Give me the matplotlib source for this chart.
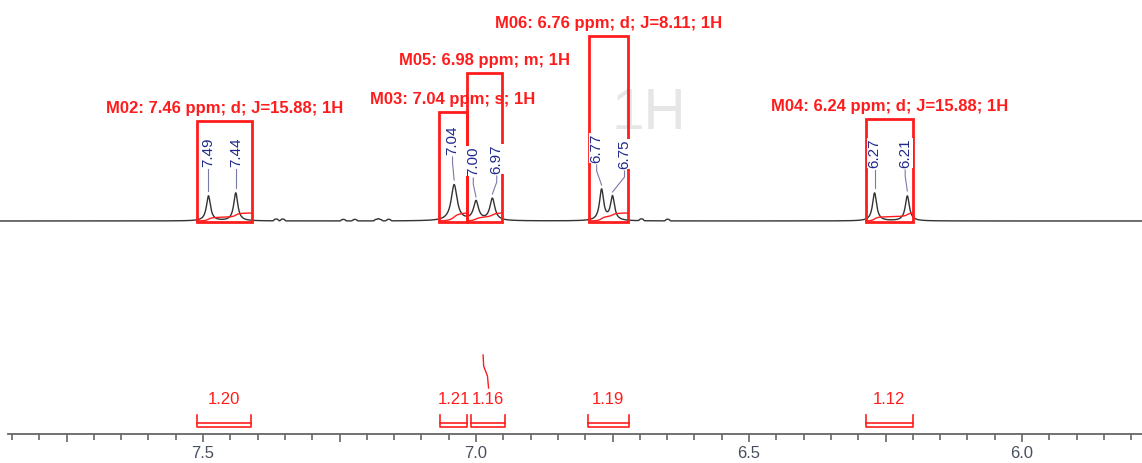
import numpy as np
import matplotlib
matplotlib.use("Agg")
import matplotlib.pyplot as plt
from matplotlib.patches import Rectangle
from matplotlib.ticker import MultipleLocator, FuncFormatter

plt.rcParams["font.family"] = ["Liberation Sans", "DejaVu Sans"]

# --- peaks (ppm, height in px above baseline, half width in ppm)
peak_ppm = [7.49, 7.44, 7.04, 7.00, 6.97, 6.77, 6.75, 6.27, 6.21]
peak_height = [25, 28, 36, 19, 22, 31, 24, 28, 25]
peak_hw = [0.0045, 0.0045, 0.0065, 0.0055, 0.0055, 0.0045, 0.0045, 0.0045, 0.0045]
peak_labels = ["7.49", "7.44", "7.04", "7.00", "6.97", "6.77", "6.75", "6.27", "6.21"]
label_ppm = [7.49, 7.44, 7.043, 7.005, 6.962, 6.779, 6.728, 6.270, 6.214]
label_y = [152, 152, 140, 161, 159, 148, 154, 153, 153]  # px from top

# small baseline bumps
bump_ppm = [7.366, 7.354, 7.243, 7.222, 7.182, 7.176, 7.160, 6.697, 6.649]
bump_height = [1.8, 1.8, 1.5, 1.5, 1.5, 1.5, 1.5, 1.8, 1.6]

# --- multiplets
mult_names = ["M02: 7.46 ppm; d; J=15.88; 1H", "M03: 7.04 ppm; s; 1H",
              "M05: 6.98 ppm; m; 1H", "M06: 6.76 ppm; d; J=8.11; 1H",
              "M04: 6.24 ppm; d; J=15.88; 1H"]
box_left = [7.511, 7.068, 7.016, 6.793, 6.286]
box_right = [7.410, 7.016, 6.952, 6.722, 6.200]
box_top = [121, 112, 73, 36, 119]  # px from top

# --- integrals
int_values = ["1.20", "1.21", "1.16", "1.19", "1.12"]
int_left = [7.511, 7.066, 7.009, 6.795, 6.286]
int_right = [7.412, 7.016, 6.946, 6.720, 6.200]

W, H = 1142, 463
BASE = 221  # baseline pixel row
def py(p):  # pixel row -> y data (px above baseline)
    return BASE - p

fig = plt.figure(figsize=(W / 100, H / 100), dpi=100)
ax = fig.add_axes([0, 0, 1, 1])
x_left = 7.5 + 203 / 546
x_right = 7.5 - (W - 203) / 546
ax.set_xlim(x_left, x_right)
ax.set_ylim(BASE - H, BASE)

# spectrum
x = np.linspace(x_left, x_right, 8000)
y = np.zeros_like(x)
for p, h, w in zip(peak_ppm, peak_height, peak_hw):
    y += h * w**2 / ((x - p) ** 2 + w**2)
for p, h in zip(bump_ppm, bump_height):
    y += h * np.exp(-0.5 * ((x - p) / 0.0035) ** 4)
ax.plot(x, y, color="#333333", lw=1.0, zorder=3)

red = "#ff1c1c"
# multiplet boxes, integral curves, labels
for name, l, r, t in zip(mult_names, box_left, box_right, box_top):
    ax.add_patch(Rectangle((r, -1.5), l - r, py(t) + 1.5, fill=False,
                           ec=red, lw=2, zorder=4))
    m = (x <= l) & (x >= r)
    cum = np.cumsum(y[m])
    cum = cum / cum[-1] * 8
    ax.plot(x[m], cum, color=red, lw=1, zorder=4)
    ax.text((l + r) / 2, py(t) + 5, name, color=red, fontsize=12,
            fontweight="bold", ha="center", va="bottom", zorder=6)

# watermark
ax.text(6.683, py(114), "1H", fontsize=42, color="#e6e6e6", ha="center",
        va="center", zorder=1)

# peak labels
for p, h, lab, lx, ly in zip(peak_ppm, peak_height, peak_labels, label_ppm, label_y):
    bottom = ly + 17
    ax.plot([lx, lx, p], [py(bottom), py(bottom + 6), h + 5],
            color="#7a7aa8", lw=0.8, zorder=5)
    ax.text(lx, py(ly), lab, rotation=90, fontsize=11, color="#1f2a8c",
            ha="center", va="center", zorder=6,
            bbox=dict(boxstyle="square,pad=0.03", fc="white", ec="none"))

# integral brackets
for v, l, r in zip(int_values, int_left, int_right):
    ax.plot([l, l, r, r], [py(415), py(427), py(427), py(415)], color=red, lw=1.2)
    ax.plot([l, r], [py(423), py(423)], color=red, lw=1.2)
    ax.text((l + r) / 2, py(400), v, color=red, fontsize=12, ha="center", va="center")

# integral split marker above 1.16
split_x = [6.987, 6.986, 6.979, 6.977]
split_y = [py(355), py(366), py(376), py(388)]
ax.plot(split_x, split_y, color=red, lw=1)

# axis
for s in ["top", "left", "right"]:
    ax.spines[s].set_visible(False)
ax.spines["bottom"].set_position(("data", py(434)))
ax.spines["bottom"].set_bounds(7.858, x_right)
ax.spines["bottom"].set_color("#666666")
ax.spines["bottom"].set_linewidth(1.3)
ax.set_yticks([])
ax.xaxis.set_major_locator(MultipleLocator(0.25))
ax.xaxis.set_minor_locator(MultipleLocator(0.05))
ax.xaxis.set_major_formatter(FuncFormatter(
    lambda v, pos: f"{v:.1f}" if abs(v * 2 - round(v * 2)) < 1e-6 else ""))
ax.tick_params(axis="x", which="major", length=6, width=1.2, color="#666666",
               labelsize=12, labelcolor="#47505c", pad=3)
ax.tick_params(axis="x", which="minor", length=4, width=1.2, color="#666666")

fig.savefig("out.png", dpi=100)
